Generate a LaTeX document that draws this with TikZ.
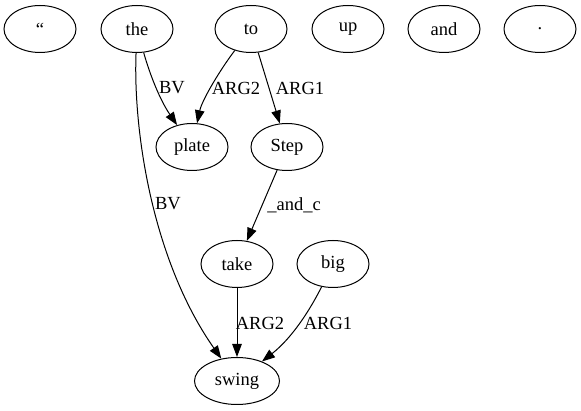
\documentclass[tikz,border=0pt]{standalone}
\usepackage{fontspec}
\setmainfont{Liberation Serif}
\usetikzlibrary{shapes.geometric,arrows.meta}
\tikzset{
  nd/.style={ellipse, draw, line width=1pt, minimum width=72pt, minimum height=47pt, inner sep=0pt, font=\fontsize{18.5}{22}\selectfont},
  edge/.style={line width=1pt, -{Triangle[length=13pt,width=9.5pt]}},
  lbl/.style={inner sep=0pt, font=\fontsize{18.5}{22}\selectfont}
}
\begin{document}
\begin{tikzpicture}[x=1pt,y=-1pt]
\useasboundingbox (0,0) rectangle (581,411);
\node[nd] (q) at (40,29) {“};
\node[nd] (the) at (137,29) {the};
\node[nd] (to) at (251,29) {to};
\node[nd] (up) at (348,29) {up};
\node[nd] (and) at (444,29) {and};
\node[nd] (dot) at (540,29) {.};
\node[nd] (plate) at (192,147) {plate};
\node[nd] (step) at (287,147) {Step};
\node[nd] (take) at (237,264) {take};
\node[nd] (big) at (333,264) {big};
\node[nd, minimum width=85pt] (swing) at (237,381) {swing};

\draw[edge] (the) .. controls (150,75) and (160,100) .. (plate);
\draw[edge] (the) .. controls (133,130) and (152,260) .. (swing);
\draw[edge] (to) .. controls (220,70) and (202,100) .. (plate);
\draw[edge] (to) -- (step);
\draw[edge] (step) -- (take);
\draw[edge] (take) -- (swing);
\draw[edge] (big) .. controls (310,310) and (292,338) .. (swing);

\node[lbl] (l1) at (172,88) {BV};
\node[lbl] (l2) at (236,88) {ARG2};
\node[lbl] (l3) at (300,88) {ARG1};
\node[lbl] (l4) at (168,204) {BV};
\node[lbl] (l5) at (294,205) {\_and\_c};
\node[lbl] (l6) at (260,323) {ARG2};
\node[lbl] (l7) at (328,323) {ARG1};
\end{tikzpicture}
\end{document}
